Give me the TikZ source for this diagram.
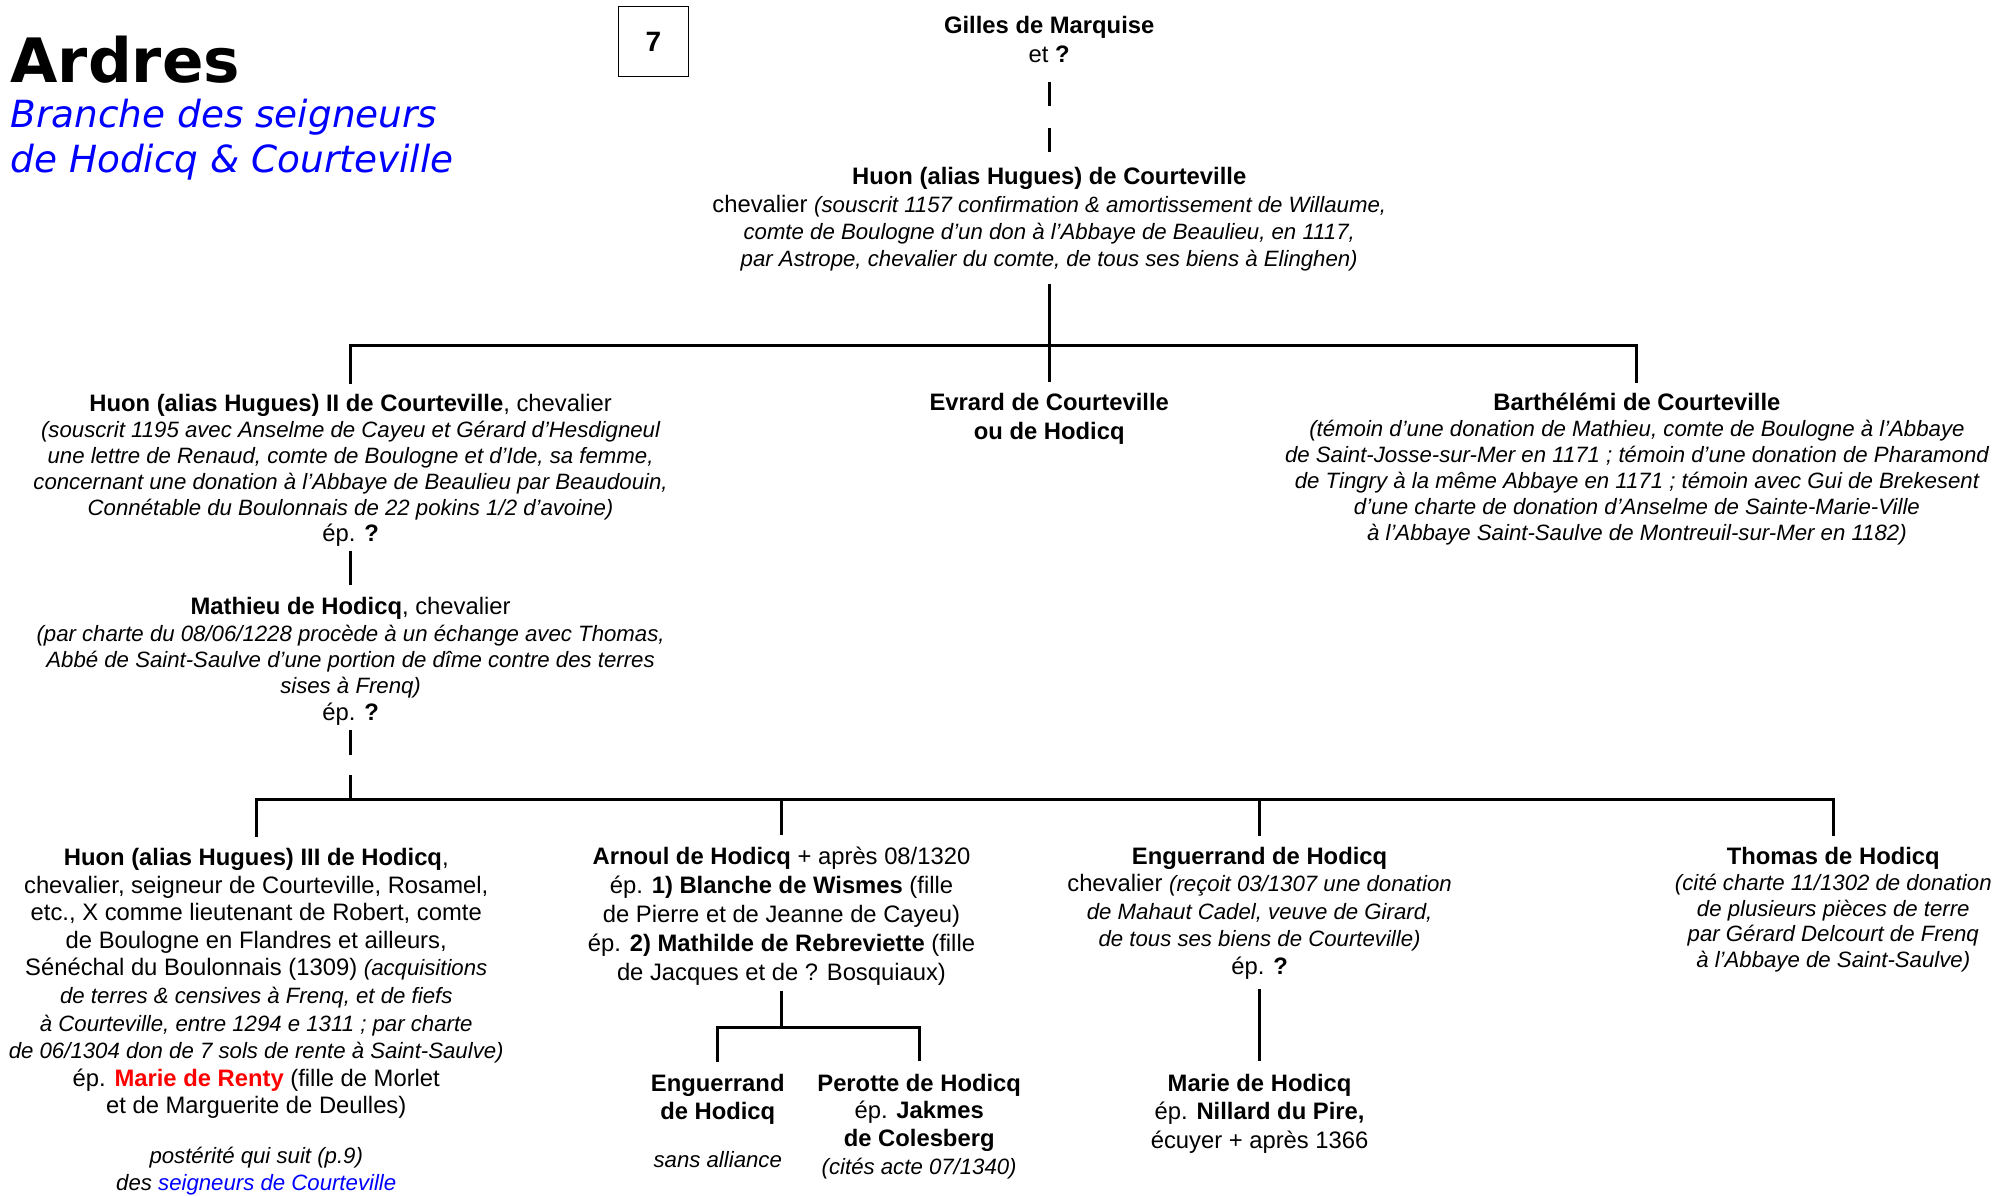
\documentclass[tikz,border=0pt]{standalone}
\usepackage{fontspec}
\setmainfont{Liberation Sans}
\newfontfamily\titlefont{DejaVu Sans}
\newcommand\obs[1]{{\itshape\fontsize{11.1}{13}\selectfont #1}}
\begin{document}
\begin{tikzpicture}[x=0.6375pt,y=-0.6375pt]
    \tikzset{
      person/.style={align=center, anchor=base, inner sep=0pt, outer sep=0pt,
        font=\fontsize{11.9}{#1}\selectfont},
      person/.default=13.5pt,
      link/.style={line width=1.5pt},
      uncertain/.style={link, dash pattern=on 12.1pt off 11pt}}
    \useasboundingbox (0,0) rectangle (1568,938);
    % title
    \node[anchor=base west, inner sep=0pt, font=\titlefont\bfseries\fontsize{30.6}{30.6}\selectfont] (title) at (8,65) {Ardres};
    \node[anchor=base west, inner sep=0pt, align=left, text=blue,
      font=\titlefont\itshape\fontsize{18.7}{22.3}\selectfont] (subtitle) at (8,135)
      {Branche des seigneurs\\de Hodicq \& Courteville};
    \node[draw, line width=0.8pt, minimum width=35pt, minimum height=35pt,
      font=\bfseries\fontsize{14}{14}\selectfont] (page) at (512.5,32.5) {7};
    % junctions
    \coordinate (j1) at (823,271);
    \coordinate (j2) at (275,627);
    \coordinate (j3) at (613,806);
    % generation 1 (nodes sit on the baseline of their last line)
    \node[person=14.7pt] (gilles) at (823,49) {\textbf{Gilles de Marquise}\\et \textbf{?}};
    \node[person=13.6pt] (huon1) at (823,209) {\textbf{Huon (alias Hugues) de Courteville}\\
      chevalier \obs{(souscrit 1157 confirmation \& amortissement de Willaume,}\\
      \obs{comte de Boulogne d’un don à l’Abbaye de Beaulieu, en 1117,}\\
      \obs{par Astrope, chevalier du comte, de tous ses biens à Elinghen)}};
    % generation 2
    \node[person=13pt] (huon2) at (275,425) {\textbf{Huon (alias Hugues) II de Courteville}, chevalier\\
      \obs{(souscrit 1195 avec Anselme de Cayeu et Gérard d’Hesdigneul}\\
      \obs{une lettre de Renaud, comte de Boulogne et d’Ide, sa femme,}\\
      \obs{concernant une donation à l’Abbaye de Beaulieu par Beaudouin,}\\
      \obs{Connétable du Boulonnais de 22 pokins 1/2 d’avoine)}\\
      ép. \textbf{?}};
    \node[person=14.7pt] (evrard) at (823,345) {\textbf{Evrard de Courteville}\\\textbf{ou de Hodicq}};
    \node[person=13pt] (barth) at (1284,424) {\textbf{Barthélémi de Courteville}\\
      \obs{(témoin d’une donation de Mathieu, comte de Boulogne à l’Abbaye}\\
      \obs{de Saint-Josse-sur-Mer en 1171 ; témoin d’une donation de Pharamond}\\
      \obs{de Tingry à la même Abbaye en 1171 ; témoin avec Gui de Brekesent}\\
      \obs{d’une charte de donation d’Anselme de Sainte-Marie-Ville}\\
      \obs{à l’Abbaye Saint-Saulve de Montreuil-sur-Mer en 1182)}};
    % generation 3
    \node[person=13.2pt] (mathieu) at (275,565) {\textbf{Mathieu de Hodicq}, chevalier\\
      \obs{(par charte du 08/06/1228 procède à un échange avec Thomas,}\\
      \obs{Abbé de Saint-Saulve d’une portion de dîme contre des terres}\\
      \obs{sises à Frenq)}\\
      ép. \textbf{?}};
    % generation 4
    \node[person=13.8pt] (huon3) at (201,934) {\textbf{Huon (alias Hugues) III de Hodicq},\\
      chevalier, seigneur de Courteville, Rosamel,\\
      etc., X comme lieutenant de Robert, comte\\
      de Boulogne en Flandres et ailleurs,\\
      Sénéchal du Boulonnais (1309) \obs{(acquisitions}\\
      \obs{de terres \& censives à Frenq, et de fiefs}\\
      \obs{à Courteville, entre 1294 e 1311 ; par charte}\\
      \obs{de 06/1304 don de 7 sols de rente à Saint-Saulve)}\\
      ép. \textcolor{red}{\textbf{Marie de Renty}} (fille de Morlet\\
      et de Marguerite de Deulles)\\[10.8pt]
      \obs{postérité qui suit (p.9)}\\
      \obs{des \textcolor{blue}{seigneurs de Courteville}}};
    \node[person=14.5pt] (arnoul) at (613,769) {\textbf{Arnoul de Hodicq} + après 08/1320\\
      ép. \textbf{1) Blanche de Wismes} (fille\\
      de Pierre et de Jeanne de Cayeu)\\
      ép. \textbf{2) Mathilde de Rebreviette} (fille\\
      de Jacques et de ? Bosquiaux)};
    \node[person=13.7pt] (enguer) at (988,764) {\textbf{Enguerrand de Hodicq}\\
      chevalier \obs{(reçoit 03/1307 une donation}\\
      \obs{de Mahaut Cadel, veuve de Girard,}\\
      \obs{de tous ses biens de Courteville)}\\
      ép. \textbf{?}};
    \node[person=12.9pt] (thomas) at (1438,759) {\textbf{Thomas de Hodicq}\\
      \obs{(cité charte 11/1302 de donation}\\
      \obs{de plusieurs pièces de terre}\\
      \obs{par Gérard Delcourt de Frenq}\\
      \obs{à l’Abbaye de Saint-Saulve)}};
    % generation 5
    \node[person=14pt] (enguer2) at (563,916) {\textbf{Enguerrand}\\\textbf{de Hodicq}\\[10pt]
      \obs{sans alliance}};
    \node[person=13.8pt] (perotte) at (721,921) {\textbf{Perotte de Hodicq}\\
      ép. \textbf{Jakmes}\\\textbf{de Colesberg}\\
      \obs{(cités acte 07/1340)}};
    \node[person=14.4pt] (marie) at (988,901) {\textbf{Marie de Hodicq}\\
      ép. \textbf{Nillard du Pire,}\\
      écuyer + après 1366};
    % links
    \draw[uncertain, shorten <=9.6pt, shorten >=6pt] (gilles.south) -- (huon1.north);
    \draw[link, shorten <=6.4pt] (huon1.south) -- (j1);
    \draw[link, shorten >=5.4pt] (j1) -- (evrard.north);
    \draw[link, shorten <=5.3pt, shorten >=5.3pt] (huon2.north) -- (huon2.north |- j1)
      -- (barth.north |- j1) -- (barth.north);
    \draw[link, shorten <=1.9pt, shorten >=6.4pt] (huon2.south) -- (mathieu.north);
    \draw[link, dash pattern=on 12.1pt off 10.2pt, shorten <=2.6pt] (mathieu.south) -- (j2);
    \draw[link, shorten <=5.7pt, shorten >=5.7pt] (huon3.north) -- (huon3.north |- j2)
      -- (thomas.north |- j2) -- (thomas.north);
    \draw[link, shorten >=5.7pt] (arnoul.north |- j2) -- (arnoul.north);
    \draw[link, shorten >=5.7pt] (enguer.north |- j2) -- (enguer.north);
    \draw[link, shorten <=2.6pt] (arnoul.south) -- (arnoul.south |- j3);
    \draw[link, shorten <=6.4pt, shorten >=6.4pt] (enguer2.north) -- (enguer2.north |- j3)
      -- (perotte.north |- j3) -- (perotte.north);
    \draw[link, shorten <=5.1pt, shorten >=6.4pt] (enguer.south) -- (marie.north);
\end{tikzpicture}
\end{document}
